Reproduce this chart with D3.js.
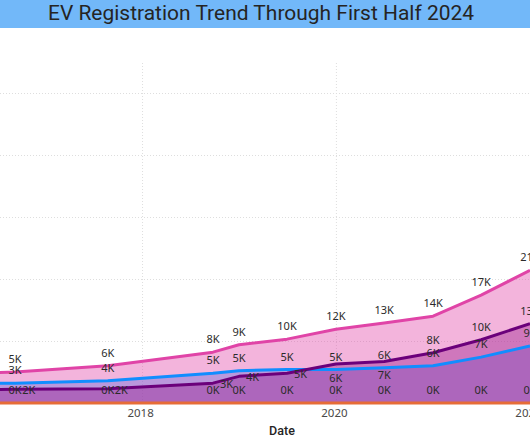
<!DOCTYPE html>
<html>
<head>
<meta charset="utf-8">
<script src="https://cdn.jsdelivr.net/npm/d3@7/dist/d3.min.js"></script>
<style>
  body { margin: 0; background: #ffffff; }
  svg { display: block; }
</style>
</head>
<body>
<svg id="chart" width="530" height="442"></svg>
<script>
// ---------------- data ----------------
const chartTitle = "EV Registration Trend Through First Half 2024";
const xAxisTitle = "Date";
const dates = ["2015-09-01", "2016-09-10", "2017-08-25", "2018-09-25", "2019-01-01", "2019-07-01",
               "2020-01-01", "2020-07-01", "2021-01-01", "2021-07-01", "2022-01-01"];
const seriesNames = ["Series A", "Series B", "Series C", "Series D"];
const seriesAValues = [3000, 3200, 3600, 4800, 5200, 5400, 5400, 5700, 6000, 7400, 9200];      // blue
const seriesBValues = [2000, 2200, 2300, 3200, 4300, 4800, 6300, 6700, 8100, 10200, 12800];    // dark purple
const seriesCValues = [0, 0, 0, 0, 0, 0, 0, 0, 0, 0, 0];                                        // orange
const seriesDValues = [4600, 5000, 6000, 8200, 9400, 10300, 11900, 12900, 14000, 17400, 21400]; // pink
const xTickDates = ["2018-01-01", "2020-01-01", "2022-01-01"];
const yGridValues = [10000, 20000, 30000, 40000, 50000];

// ---------------- layout / style ----------------
const W = 530, H = 442;
const plot = { left: 0, right: 530, top: 62, bottom: 403 };
const colors = ["#118DFF", "#6B007B", "#E66C37", "#E044A7"];
const parse = d3.timeParse("%Y-%m-%d");

const svg = d3.select("#chart");
svg.append("rect").attr("width", W).attr("height", H).attr("fill", "#ffffff");

const x = d3.scaleTime()
  .domain([parse("2016-07-15"), parse("2022-01-01")])
  .range([plot.left, plot.right]);
const y = d3.scaleLinear().domain([0, 55000]).range([plot.bottom, plot.top]);

const series = [seriesAValues, seriesBValues, seriesCValues, seriesDValues].map((vals, i) => ({
  name: seriesNames[i],
  color: colors[i],
  points: vals.map((v, j) => ({ date: parse(dates[j]), value: v }))
}));

// title bar
svg.append("rect").attr("x", 0).attr("y", 0).attr("width", W).attr("height", 28).attr("fill", "#72B8F9");
svg.append("text")
  .attr("x", 261).attr("y", 19.5)
  .attr("text-anchor", "middle")
  .attr("font-family", "Roboto, 'DejaVu Sans', sans-serif")
  .attr("font-size", 20)
  .attr("fill", "#252423")
  .attr("textLength", 426).attr("lengthAdjust", "spacingAndGlyphs")
  .text(chartTitle);

// gridlines
const gridH = svg.append("g").attr("transform", `translate(${plot.left},0)`)
  .call(d3.axisLeft(y).tickValues(yGridValues).tickSize(-(plot.right - plot.left)).tickFormat(""));
gridH.select(".domain").remove();
gridH.selectAll("line").attr("stroke", "#dedede").attr("stroke-dasharray", "1,2");

const gridV = svg.append("g").attr("transform", `translate(0,${plot.bottom})`)
  .call(d3.axisBottom(x).tickValues(xTickDates.map(parse)).tickSize(-(plot.bottom - plot.top)).tickFormat(""));
gridV.select(".domain").remove();
gridV.selectAll("line").attr("stroke", "#dedede").attr("stroke-dasharray", "1,2");

// areas
const area = d3.area().x(d => x(d.date)).y0(y(0)).y1(d => y(d.value));
const line = d3.line().x(d => x(d.date)).y(d => y(d.value));
series.forEach(s => {
  svg.append("path").datum(s.points).attr("d", area).attr("fill", s.color).attr("fill-opacity", 0.4);
});
series.forEach(s => {
  svg.append("path").datum(s.points).attr("d", line)
    .attr("fill", "none").attr("stroke", s.color).attr("stroke-width", 3)
    .attr("stroke-linejoin", "round");
});

// x axis labels
const xAxis = svg.append("g").attr("transform", `translate(0,${plot.bottom})`)
  .call(d3.axisBottom(x).tickValues(xTickDates.map(parse)).tickSize(0).tickPadding(6).tickFormat(d3.timeFormat("%Y")));
xAxis.select(".domain").remove();
xAxis.selectAll("text")
  .attr("dx", -2)
  .attr("font-family", "'Segoe UI', 'Noto Sans', sans-serif")
  .attr("font-size", 11.5).attr("fill", "#4a4948");

svg.append("text")
  .attr("x", 282).attr("y", 435)
  .attr("text-anchor", "middle")
  .attr("font-family", "Roboto, sans-serif").attr("font-weight", 500)
  .attr("font-size", 12.5).attr("fill", "#252423")
  .text(xAxisTitle);

// data labels with simple collision avoidance (only for points inside the visible plot)
const fmt = v => Math.round(v / 1000) + "K";
const labelOrder = [3, 0, 2, 1]; // pink, blue, orange, purple
const labelG = svg.append("g");
const BOX_H = 11;
dates.forEach((d, j) => {
  if (x(parse(d)) < plot.left) return;
  const placed = [];
  labelOrder.forEach(si => {
    const p = series[si].points[j];
    const px = x(p.date), py = y(p.value);
    const t = labelG.append("text")
      .attr("font-family", "'Segoe UI', 'Noto Sans', sans-serif")
      .attr("font-size", 11).attr("fill", "#2b2b2b")
      .attr("text-anchor", "middle")
      .text(fmt(p.value));
    const w = t.node().getComputedTextLength();
    const cands = [
      { cx: px, cy: py - 13 },
      { cx: px, cy: py + 14 },
      { cx: px + 7 + w / 2, cy: py + 1 },
      { cx: px - 7 - w / 2, cy: py + 1 }
    ];
    let chosen = cands[2];
    for (const c of cands) {
      const box = { x0: c.cx - w / 2, x1: c.cx + w / 2, y0: c.cy - BOX_H / 2, y1: c.cy + BOX_H / 2 };
      if (box.y1 > plot.bottom || box.y0 < plot.top) continue;
      const hit = placed.some(b => box.x0 < b.x1 && box.x1 > b.x0 && box.y0 < b.y1 && box.y1 > b.y0);
      if (!hit) { chosen = c; break; }
    }
    placed.push({ x0: chosen.cx - w / 2, x1: chosen.cx + w / 2, y0: chosen.cy - BOX_H / 2, y1: chosen.cy + BOX_H / 2 });
    t.attr("x", chosen.cx).attr("y", chosen.cy + 4);
  });
});
</script>
</body>
</html>
